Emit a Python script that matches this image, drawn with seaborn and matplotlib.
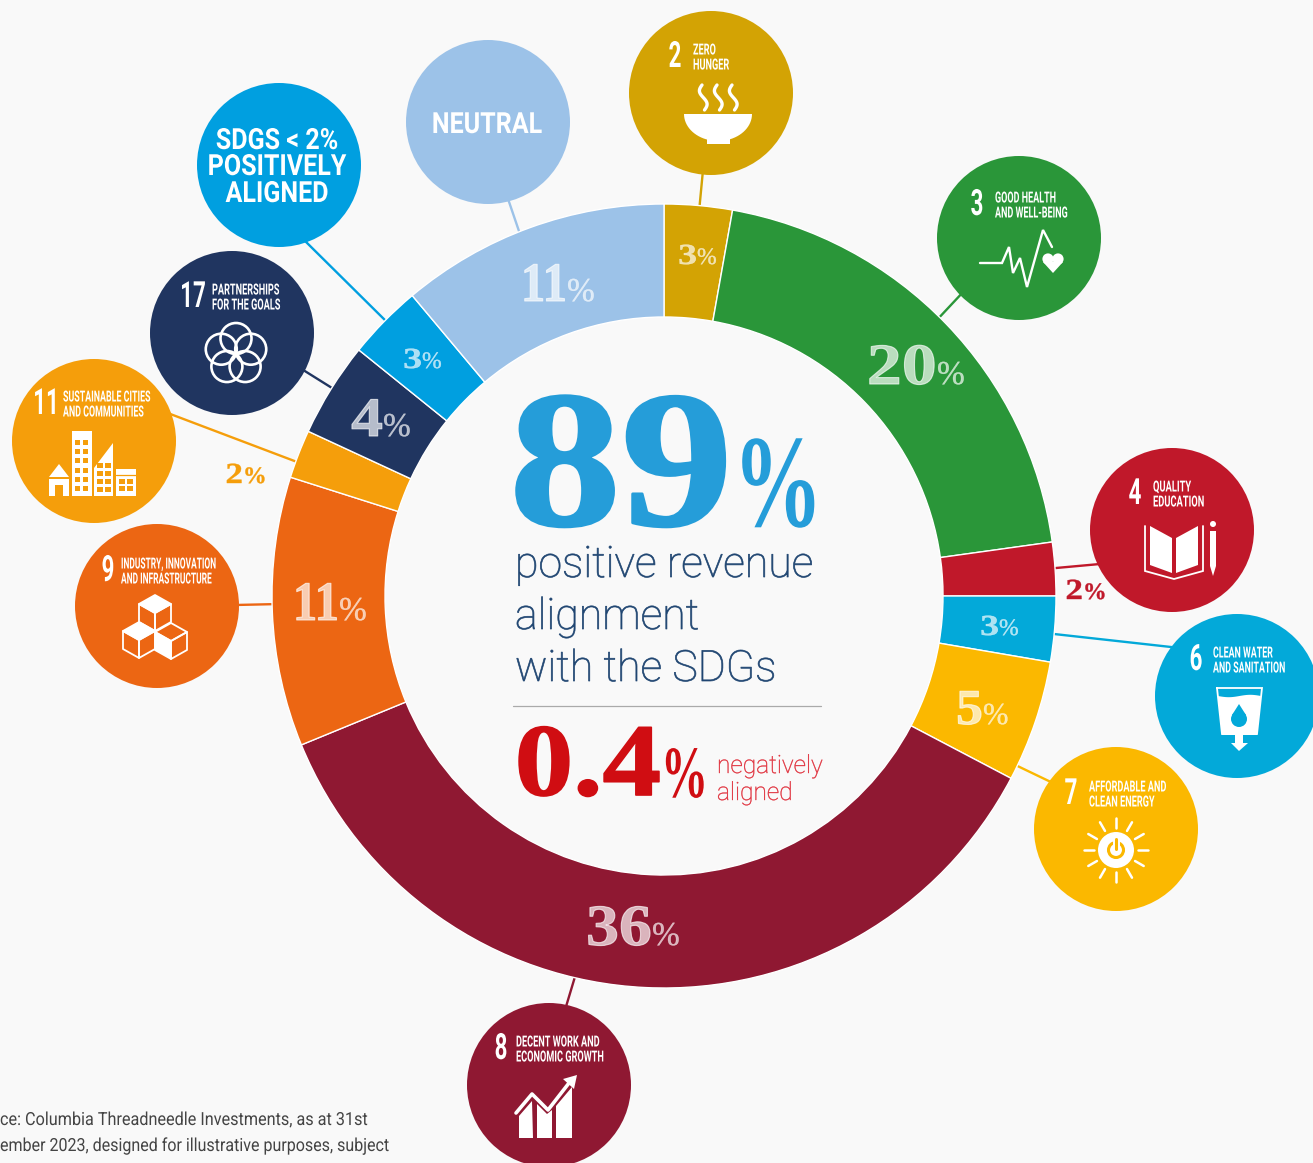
import numpy as np
import matplotlib
matplotlib.use('Agg')
import matplotlib.pyplot as plt
from matplotlib.patches import Circle, Polygon, Rectangle
from matplotlib.patheffects import AbstractPathEffect
from matplotlib.transforms import Affine2D
import seaborn as sns

# ring data, clockwise from 12 o'clock (arc sizes, labels are rounded)
goals = ['Zero hunger', 'Good health', 'Quality education', 'Clean water', 'Clean energy',
         'Decent work', 'Industry', 'Sustainable cities', 'Partnerships', 'SDGs < 2%', 'Neutral']
shares = [2.8, 20.0, 2.2, 2.7, 5.0, 36.1, 11.1, 2.0, 3.9, 3.1, 11.1]
share_labels = ['3', '20', '2', '3', '5', '36', '11', '2', '4', '3', '11']
colours = ['#d3a304', '#2a9639', '#c0182a', '#03a9d9', '#fbb800', '#8f1832',
           '#ec6613', '#f59e0b', '#203560', '#009fe0', '#9cc2e8']

headline = '89'
negative = '0.4'
body_lines = ['positive revenue', 'alignment', 'with the SDGs']
negative_lines = ['negatively', 'aligned']
source_lines = ['ce: Columbia Threadneedle Investments, as at 31st',
                'ember 2023, designed for illustrative purposes, subject']

# SDG bubbles: number, two title lines
goal_titles = {
    'Zero hunger': ('2', 'ZERO', 'HUNGER'),
    'Good health': ('3', 'GOOD HEALTH', 'AND WELL-BEING'),
    'Quality education': ('4', 'QUALITY', 'EDUCATION'),
    'Clean water': ('6', 'CLEAN WATER', 'AND SANITATION'),
    'Clean energy': ('7', 'AFFORDABLE AND', 'CLEAN ENERGY'),
    'Decent work': ('8', 'DECENT WORK AND', 'ECONOMIC GROWTH'),
    'Industry': ('9', 'INDUSTRY, INNOVATION', 'AND INFRASTRUCTURE'),
    'Sustainable cities': ('11', 'SUSTAINABLE CITIES', 'AND COMMUNITIES'),
    'Partnerships': ('17', 'PARTNERSHIPS', 'FOR THE GOALS'),
}

# layout, in pixels of the 1313x1163 picture
W, H = 1313, 1163
CX, CY, R, RING = 664, 596, 392, 113
BG = '#f9f9f9'
bubble_pos = {
    'Zero hunger': (711, 93), 'Good health': (1019, 238), 'Quality education': (1172, 530),
    'Clean water': (1237, 696), 'Clean energy': (1116, 829), 'Decent work': (549, 1085),
    'Industry': (157, 606), 'Sustainable cities': (94, 441), 'Partnerships': (232, 333),
    'SDGs < 2%': (279, 165), 'Neutral': (488, 122),
}
# leader line ends, both run a little under the ring and under the bubble
leaders = {
    'Zero hunger': ((699, 212), (703, 170)), 'Good health': ((935, 322), (965, 290)),
    'Quality education': ((1045, 569), (1100, 564)), 'Clean water': ((1045, 633), (1180, 648)),
    'Clean energy': ((1005, 760), (1055, 784)), 'Decent work': ((577, 970), (565, 1010)),
    'Industry': ((280, 604), (235, 605)), 'Sustainable cities': ((305, 465), (165, 412)),
    'Partnerships': ((340, 393), (300, 368)), 'SDGs < 2%': ((395, 330), (300, 236)),
    'Neutral': ((522, 240), (505, 190)),
}
# number x offset, label x offset, y nudge, label squeeze per bubble
title_offset = {
    'Zero hunger': (-36, -18, 0, 0.6), 'Good health': (-42, -24, 3, 0.59),
    'Quality education': (-37, -19, 0, 0.61), 'Clean water': (-41, -24, 0, 0.58),
    'Clean energy': (-45, -27, 1, 0.6), 'Decent work': (-48, -33, 0, 0.6),
    'Industry': (-49, -36, 1, 0.55), 'Sustainable cities': (-48, -31, -1, 0.58),
    'Partnerships': (-39, -20, 0, 0.6),
}
# split x, baseline y, digit size, digit stretch, percent size, colour override
pct_style = {
    'Zero hunger': (697, 264, 21, 1.3, 17, None), 'Good health': (937, 384, 42, 1.2, 24, None),
    'Quality education': (1083, 599, 21, 1.2, 17, '#c0182a'), 'Clean water': (999, 635, 21, 1.3, 17, None),
    'Clean energy': (983, 724, 36, 1.08, 22, None), 'Decent work': (652, 945, 42, 1.13, 24, None),
    'Industry': (339, 620, 40, 0.88, 24, None), 'Sustainable cities': (243, 483, 21, 1.2, 17, '#f59e0b'),
    'Partnerships': (383, 436, 40, 1.15, 24, None), 'SDGs < 2%': (422, 368, 21, 1.3, 17, None),
    'Neutral': (567, 301, 40, 0.88, 24, None),
}

SANS = 'Roboto'
SERIF = 'Liberation Serif'

sns.set_theme(style='white', rc={'figure.facecolor': BG, 'axes.facecolor': BG})
palette = sns.color_palette(colours)

fig, ax = plt.subplots(figsize=(W / 100, H / 100), dpi=100)
fig.subplots_adjust(0, 0, 1, 1)

# y axis runs downwards here, so start at 270 to begin at the top and go clockwise
ax.pie(shares, colors=palette, startangle=270, center=(CX, CY), radius=R, frame=True,
       wedgeprops={'width': RING, 'edgecolor': 'white', 'linewidth': 1.0, 'zorder': 2})
ax.set_xlim(0, W)
ax.set_ylim(H, 0)
ax.set_aspect('equal')
ax.axis('off')


class Stretch(AbstractPathEffect):
    # no condensed or didone fonts here, so squeeze/widen the text around its anchor
    def __init__(self, sx, x0, stroke=0):
        super().__init__()
        self.sx, self.x0, self.stroke = sx, x0, stroke

    def draw_path(self, renderer, gc, tpath, affine, rgbFace=None):
        aff = affine + Affine2D().translate(-self.x0, 0).scale(self.sx, 1).translate(self.x0, 0)
        if self.stroke:
            gc0 = renderer.new_gc()
            gc0.copy_properties(gc)
            gc0.set_linewidth(self.stroke)
            gc0.set_foreground(rgbFace, isRGBA=True)
            renderer.draw_path(gc0, tpath, aff, rgbFace)
            gc0.restore()
        else:
            renderer.draw_path(gc, tpath, aff, rgbFace)


def label(x, y, txt, sx=1.0, stroke=0, **kw):
    t = ax.text(x, y, txt, **kw)
    t.set_path_effects([Stretch(sx, x, stroke)])  # axes fill the figure, data x == pixel x
    return t


def white_line(xs, ys, lw=1.6, color='white'):
    ax.plot(xs, ys, color=color, lw=lw, zorder=5, solid_capstyle='round', solid_joinstyle='miter')


def fill(points, color='white', z=5):
    ax.add_patch(Polygon(points, closed=True, fc=color, ec='none', zorder=z))


def icon_bowl(col):
    t = np.linspace(0, np.pi, 40)
    fill(np.c_[718 + 34 * np.cos(t), 114 + 27 * np.sin(t)])
    fill([(707, 139), (730, 139), (730, 144), (707, 144)])
    for x0 in (702, 717, 732):
        y = np.linspace(85, 110, 30)
        white_line(x0 + 3.2 * np.sin((y - 85) / 25 * 2 * np.pi + np.pi) + (y - 85) * 0.1, y, lw=2.4)


def icon_pulse(col):
    white_line([980, 1002, 1009, 1013, 1020, 1027, 1043, 1052],
               [263, 263, 247, 273, 258, 287, 230, 247], lw=1.7)
    for x in (1048, 1058):
        ax.add_patch(Circle((x, 259), 5.6, fc='white', ec='none', zorder=5))
    fill([(1043, 262), (1063, 262), (1053, 273)])


def icon_book(col):
    fill([(1150, 526), (1172, 538), (1172, 573), (1150, 565)])
    fill([(1176, 538), (1198, 526), (1198, 565), (1176, 573)])
    white_line([1145, 1145, 1174, 1203, 1203], [526, 571, 579, 571, 526], lw=1.3)
    fill([(1210, 531), (1216, 531), (1216, 566), (1213, 576), (1210, 566)])
    ax.add_patch(Circle((1213, 524), 3, fc='white', ec='none', zorder=5))


def icon_water(col):
    white_line([1217, 1262, 1257, 1222, 1217], [688, 688, 734, 734, 688], lw=1.3)
    xs = np.linspace(1218, 1261, 30)
    top = 696 + 1.2 * np.sin((xs - 1218) / 43 * 2 * np.pi)
    fill(np.r_[np.c_[xs, top], [(1257, 735), (1222, 735)]])
    fill([(1235, 734), (1243, 734), (1243, 743), (1248, 743), (1239, 751), (1231, 743), (1235, 743)])
    ax.add_patch(Circle((1239, 719), 8, fc=col, ec='none', zorder=6))
    fill([(1232, 715), (1246, 715), (1239, 704)], color=col, z=6)


def icon_sun(col):
    cx, cy = 1116, 850
    ax.add_patch(Circle((cx, cy), 18, fc='white', ec='none', zorder=5))
    ax.add_patch(Circle((cx, cy), 7.5, fc='none', ec=col, lw=2.2, zorder=6))
    ax.plot([cx, cx], [cy - 11, cy - 1], color='white', lw=5, zorder=6)
    ax.plot([cx, cx], [cy - 11, cy - 1], color=col, lw=2.2, zorder=7)
    for a in np.deg2rad(np.arange(0, 360, 30)):
        white_line([cx + 22 * np.cos(a), cx + 32 * np.cos(a)],
                   [cy + 22 * np.sin(a), cy + 32 * np.sin(a)], lw=1.8)


def icon_growth(col):
    fill([(519, 1116), (532, 1101), (533, 1138), (519, 1138)])
    fill([(537, 1104), (547, 1114), (552, 1110), (552, 1138), (537, 1138)])
    fill([(556, 1106), (572, 1087), (572, 1138), (556, 1138)])
    ax.plot([516, 532, 548, 569], [1113, 1094, 1110, 1083], color='white', lw=2.6, zorder=5)
    fill([(577, 1075), (574, 1089), (563, 1079)])


def cube(cx, cy, face):
    rx, ry = 16, 18
    top = [(cx, cy - ry), (cx + rx, cy - ry / 2), (cx, cy), (cx - rx, cy - ry / 2)]
    left = [(cx - rx, cy - ry / 2), (cx, cy), (cx, cy + ry), (cx - rx, cy + ry / 2)]
    right = [(cx, cy), (cx + rx, cy - ry / 2), (cx + rx, cy + ry / 2), (cx, cy + ry)]
    for name, pts in (('top', top), ('left', left), ('right', right)):
        ax.add_patch(Polygon(pts, closed=True, fc='white' if name == face else 'none', ec='white',
                             lw=1.3, zorder=5, joinstyle='round'))


def icon_cubes(col):
    cube(155, 613, 'top')
    cube(139, 640, 'top')
    cube(171, 641, 'left')


def icon_city(col):
    fill([(49, 477), (59, 464), (69, 477)])
    fill([(49, 479), (69, 479), (69, 496), (63, 496), (63, 485), (55, 485), (55, 496), (49, 496)])
    ax.add_patch(Rectangle((72, 431), 20, 65, fc='white', ec='none', zorder=5))
    for r in range(6):
        for c in range(2):
            ax.add_patch(Rectangle((75 + 8 * c, 440 + 9.2 * r), 5, 5, fc=col, ec='none', zorder=6))
    fill([(94, 468), (113, 443), (113, 496), (94, 496)])
    for r in range(4):
        for c in range(2):
            ax.add_patch(Rectangle((97 + 8 * c, 463 + 8 * r), 6, 5, fc=col, ec='none', zorder=6))
    ax.add_patch(Rectangle((116, 469), 20, 27, fc='white', ec='none', zorder=5))
    for r in range(2):
        for c in range(2):
            ax.add_patch(Rectangle((119 + 8 * c, 479 + 7 * r), 6, 4.5, fc=col, ec='none', zorder=6))
    ax.plot([116, 136], [475, 475], color=col, lw=0.9, zorder=6)


def icon_rings(col):
    for a in np.deg2rad(np.arange(-90, 270, 72)):
        ax.add_patch(Circle((236 + 15.5 * np.cos(a), 354 + 15.5 * np.sin(a)), 15.5,
                            fc='none', ec='white', lw=1.9, zorder=5))


icons = {'Zero hunger': icon_bowl, 'Good health': icon_pulse, 'Quality education': icon_book,
         'Clean water': icon_water, 'Clean energy': icon_sun, 'Decent work': icon_growth,
         'Industry': icon_cubes, 'Sustainable cities': icon_city, 'Partnerships': icon_rings}

for goal, share, col in zip(goals, share_labels, palette):
    bx, by = bubble_pos[goal]
    (lx0, ly0), (lx1, ly1) = leaders[goal]
    ax.plot([lx0, lx1], [ly0, ly1], color=col, lw=1.7, zorder=1)
    ax.add_patch(Circle((bx, by), 82, fc=col, ec='none', zorder=3))

    # percent label, heavy digits and a lighter sign
    sx, sy, big, stretch, small, override = pct_style[goal]
    tone = override or 'white'
    alpha = 1 if override else 0.68
    label(sx, sy, share, sx=stretch, stroke=0.8 if big > 30 else 0.3, ha='right', va='baseline',
          family=SERIF, weight='bold', fontsize=big, color=tone, alpha=alpha, zorder=6)
    label(sx, sy, '%', stroke=0.3, ha='left', va='baseline', family=SERIF, fontsize=small,
          weight='bold' if override else 'normal', color=tone, alpha=alpha, zorder=6)

    if goal in goal_titles:
        number, line1, line2 = goal_titles[goal]
        nx, tx, dy, squeeze = title_offset[goal]
        label(bx + nx, by - 36 + dy, number, sx=0.62, ha='center', va='center', family=SANS,
              weight='bold', fontsize=26, color='white', zorder=5)
        label(bx + tx, by - 38.5 + dy, line1, sx=squeeze, ha='left', va='baseline', family=SANS,
              weight='bold', fontsize=11, color='white', zorder=5)
        label(bx + tx, by - 23.5 + dy, line2, sx=squeeze, ha='left', va='baseline', family=SANS,
              weight='bold', fontsize=11, color='white', zorder=5)
        icons[goal](col)

# text-only bubbles
label(487, 125, 'NEUTRAL', sx=0.86, ha='center', va='center', family=SANS, weight='bold', fontsize=21,
      color='white', zorder=5)
for y, txt in zip((141, 167, 194), ('SDGS < 2%', 'POSITIVELY', 'ALIGNED')):
    label(277, y, txt, sx=0.86, ha='center', va='center', family=SANS, weight='bold', fontsize=21,
          color='white', zorder=5)

# centre block
label(733, 525, headline, sx=1.15, stroke=2.0, ha='right', va='baseline', family=SERIF, weight='bold',
      fontsize=140, color='#259dd9')
label(733, 526, '%', sx=0.68, ha='left', va='baseline', family=SERIF, weight='bold', fontsize=95,
      color='#259dd9')
for y, txt in zip((577, 629, 681), body_lines):
    label(515, y, txt, sx=0.995, stroke=0.5, ha='left', va='baseline', family=SANS, weight='light',
          fontsize=31, color='#1f4571')
ax.plot([513, 821], [706, 706], color='#aaaaaa', lw=0.9)
label(661, 795, negative, sx=1.14, stroke=1.2, ha='right', va='baseline', family=SERIF, weight='bold',
      fontsize=74, color='#d00d12')
label(661, 797, '%', sx=0.64, ha='left', va='baseline', family=SERIF, weight='bold', fontsize=53,
      color='#d00d12')
for y, txt in zip((773, 800), negative_lines):
    label(717, y, txt, sx=0.98, stroke=0.3, ha='left', va='baseline', family=SANS, weight='light',
          fontsize=18, color='#e0303c')

# source note is cut by the left edge in the original
for y, txt, squeeze in zip((1125, 1151), source_lines, (0.898, 0.888)):
    label(0, y, txt, sx=squeeze, ha='left', va='baseline', family=SANS, fontsize=13, color='#444444')

fig.savefig('out.png', dpi=100, facecolor=BG)
